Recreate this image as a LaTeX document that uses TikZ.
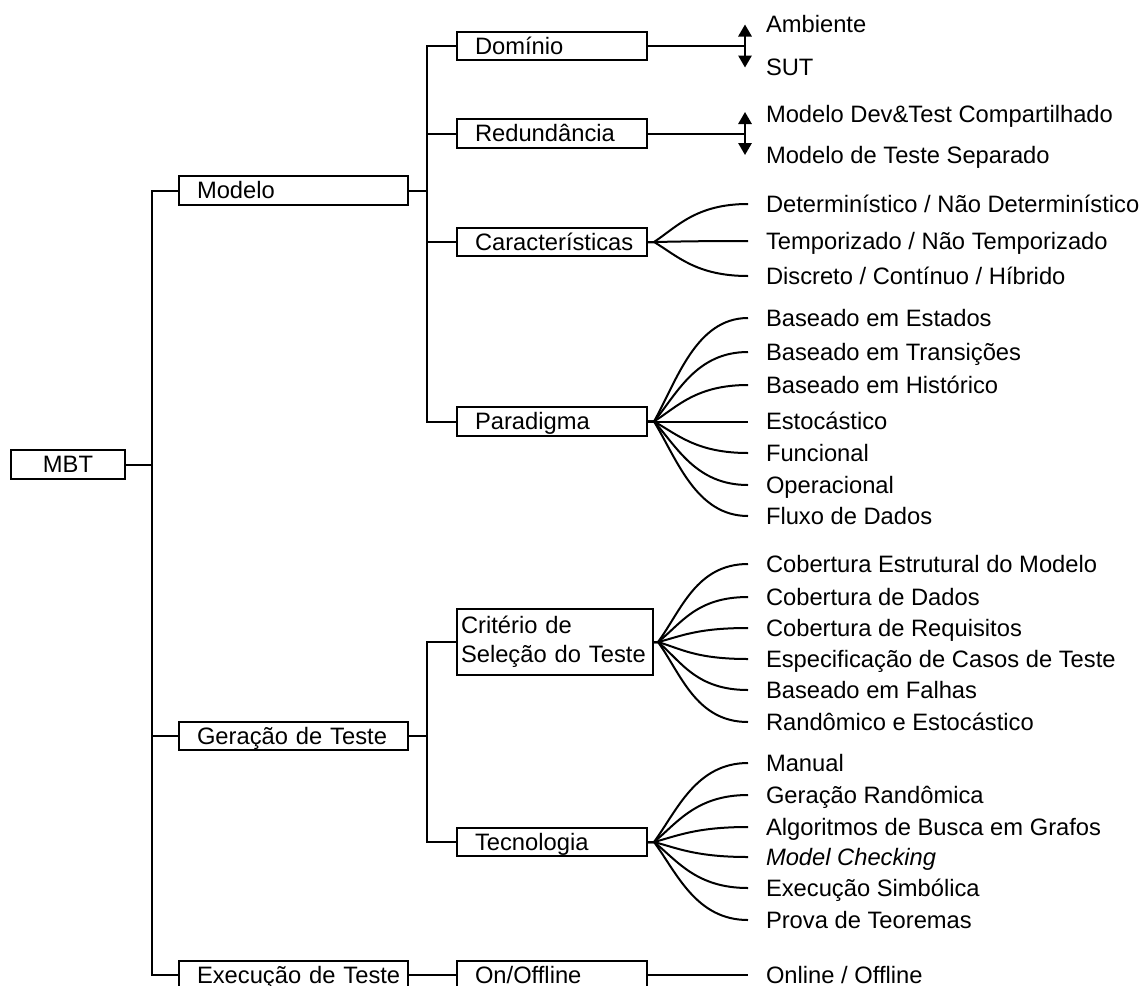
\documentclass[tikz,border=0pt]{standalone}
\usepackage{fontspec}
\setmainfont{Liberation Sans}
\usetikzlibrary{arrows.meta,calc}

\begin{document}
\begin{tikzpicture}[x=0.75pt,y=-0.75pt,
  font=\fontsize{17.8pt}{21.6pt}\selectfont,
  line width=1.5pt,
  box/.style={draw, line width=1.5pt, anchor=west, inner xsep=13.5pt, inner ysep=0pt,
    minimum height=21.4pt, align=left, text height=16pt, text depth=3.5pt},
  item/.style={anchor=west, inner xsep=12.75pt, inner ysep=0pt, text height=12.7pt, text depth=0pt},
  dbl/.style={line width=1.5pt, {Triangle[length=9pt,width=10pt]}-{Triangle[length=9pt,width=10pt]}}]

\useasboundingbox (0,0) rectangle (1148,985);
\clip (0,0) rectangle (1148,985);

% root and first level
\node[draw, line width=1.5pt, minimum width=85.5pt, minimum height=21.4pt, inner sep=0pt,
      text height=16pt, text depth=3.5pt] (mbt) at (68,464.5) {MBT};
\node[box, text width=144.75pt] (modelo)  at (178,190.5) {Modelo};
\node[box, text width=144.75pt] (geracao) at (178,736)   {\mbox{Geração de Teste}};
\node[box, text width=144.75pt] (exec)    at (178,975)   {\mbox{Execução de Teste}};

% second level
\node[box, text width=115.5pt] (dom) at (456,46)    {Domínio};
\node[box, text width=115.5pt] (red) at (456,133.5) {Redundância};
\node[box, text width=115.5pt] (car) at (456,242)   {Características};
\node[box, text width=115.5pt] (par) at (456,421.5) {Paradigma};
\node[draw, line width=1.5pt, anchor=west, inner xsep=3pt, inner ysep=0pt, text width=141pt,
      minimum height=49.5pt, align=left] (crit) at (456,642) {Critério de\\Seleção do Teste};
\node[box, text width=115.5pt] (tec)   at (456,842) {Tecnologia};
\node[box, text width=115.5pt] (onoff) at (456,975) {On/Offline};

% tree trunks
\coordinate (t1) at (152,464.5);
\coordinate (t2) at (426.5,190.5);
\coordinate (t3) at (427,736);
\draw (mbt.east) -- (t1);
\draw (modelo.west) -| (t1) |- (exec.west);
\draw (geracao.west) -- (geracao.west -| t1);
\draw (modelo.east) -- (t2);
\draw (dom.west) -| (t2) |- (par.west);
\draw (red.west) -- (red.west -| t2);
\draw (car.west) -- (car.west -| t2);
\draw (geracao.east) -- (t3);
\draw (crit.west) -| (t3) |- (tec.west);
\draw (exec.east) -- (onoff.west);

% Domínio
\coordinate (dj) at (745,46);
\coordinate (dtop) at (745,24.5);
\coordinate (dbot) at (745,67.5);
\draw (dom.east) -- (dj);
\draw[dbl] (dtop) -- (dbot);
\node[item] (amb) at (748,24) {Ambiente};
\node[item] (sut) at (748,67) {SUT};

% Redundância
\coordinate (rj) at (745,133.5);
\coordinate (rtop) at (745,112);
\coordinate (rbot) at (745,155);
\draw (red.east) -- (rj);
\draw[dbl] (rtop) -- (rbot);
\node[item] (shared) at (748,114) {Modelo Dev\&Test Compartilhado};
\node[item] (separ)  at (748,155) {Modelo de Teste Separado};

% Características
\coordinate (carfo) at ($(car.east)+(6,0)$);
\foreach \yy/\nm/\txt in {204/c1/{Determinístico / Não Determinístico},
                          241/c2/{Temporizado / Não Temporizado},
                          276/c3/{Discreto / Contínuo / Híbrido}} {
  \node[item] (\nm) at (748,\yy) {\txt};
  \draw (car.east) -- (carfo) .. controls ($(carfo)+(23,{0.4*(\yy-242)})$) and ($(\nm.west)+(-52,0)$) .. (\nm.west);
}

% Paradigma
\coordinate (parfo) at ($(par.east)+(6,0)$);
\foreach \yy/\nm/\txt in {318/p1/{Baseado em Estados},
                          352/p2/{Baseado em Transições},
                          385/p3/{Baseado em Histórico},
                          421.5/p4/{Estocástico},
                          453/p5/{Funcional},
                          485/p6/{Operacional},
                          516/p7/{Fluxo de Dados}} {
  \node[item] (\nm) at (748,\yy) {\txt};
  \draw (par.east) -- (parfo) .. controls ($(parfo)+(23,{0.4*(\yy-421.5)})$) and ($(\nm.west)+(-52,0)$) .. (\nm.west);
}

% Critério de Seleção do Teste
\coordinate (critfo) at ($(crit.east)+(4,0)$);
\foreach \yy/\nm/\txt in {564/s1/{Cobertura Estrutural do Modelo},
                          597/s2/{Cobertura de Dados},
                          628/s3/{Cobertura de Requisitos},
                          659/s4/{Especificação de Casos de Teste},
                          690/s5/{Baseado em Falhas},
                          722/s6/{Randômico e Estocástico}} {
  \node[item] (\nm) at (748,\yy) {\txt};
  \draw (crit.east) -- (critfo) .. controls ($(critfo)+(23,{0.4*(\yy-642)})$) and ($(\nm.west)+(-52,0)$) .. (\nm.west);
}

% Tecnologia
\coordinate (tecfo) at ($(tec.east)+(6,0)$);
\foreach \yy/\nm/\txt in {763/g1/{Manual},
                          795/g2/{Geração Randômica},
                          827/g3/{Algoritmos de Busca em Grafos},
                          857/g4/{\itshape Model Checking},
                          888/g5/{Execução Simbólica},
                          920/g6/{Prova de Teoremas}} {
  \node[item] (\nm) at (748,\yy) {\txt};
  \draw (tec.east) -- (tecfo) .. controls ($(tecfo)+(23,{0.4*(\yy-842)})$) and ($(\nm.west)+(-52,0)$) .. (\nm.west);
}

% On/Offline
\node[item] (online) at (748,975) {Online / Offline};
\draw (onoff.east) -- (online.west);

\end{tikzpicture}
\end{document}
